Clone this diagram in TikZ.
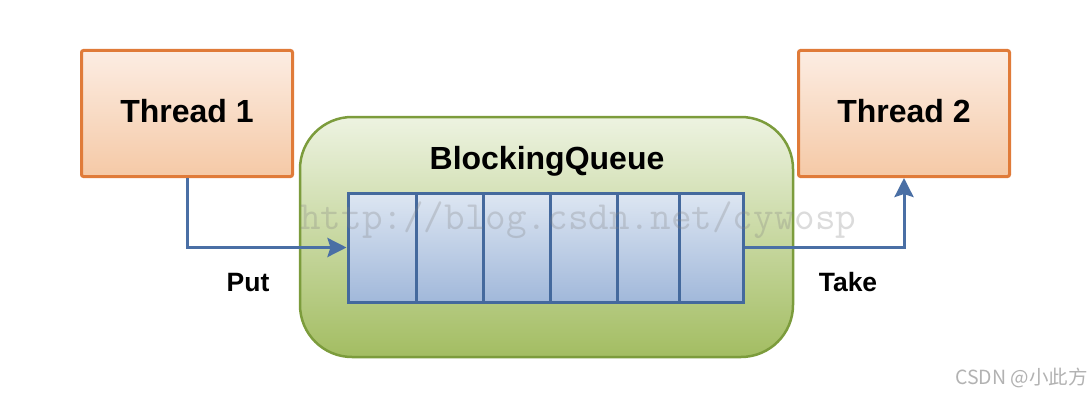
\documentclass[tikz,border=0pt]{standalone}
\usepackage{fontspec}
\setmainfont{Liberation Sans}
\newfontfamily\cjkf{Noto Sans CJK SC}
\usetikzlibrary{arrows.meta}
\definecolor{orangeB}{HTML}{E07B39}
\definecolor{orangeT}{HTML}{FCEDE3}
\definecolor{orangeBt}{HTML}{F5C9A6}
\definecolor{greenB}{HTML}{7C9C3C}
\definecolor{greenT}{HTML}{EDF3E1}
\definecolor{greenBt}{HTML}{A3BD62}
\definecolor{blueB}{HTML}{44699D}
\definecolor{blueT}{HTML}{DDE6F2}
\definecolor{blueBt}{HTML}{A1B8DA}
\definecolor{arrowC}{HTML}{4A6FA5}
\tikzset{
  thread/.style={draw=orangeB, line width=3pt, rounded corners=2pt,
    top color=orangeT, bottom color=orangeBt,
    minimum width=211pt, minimum height=126pt,
    text height=23pt, text depth=5pt,
    font=\fontsize{32}{36}\selectfont\bfseries},
  holder/.style={draw=greenB, line width=2.5pt, rounded corners=52pt,
    top color=greenT, bottom color=greenBt,
    minimum width=493pt, minimum height=240pt},
  cell/.style={draw=blueB, line width=3pt,
    top color=blueT, bottom color=blueBt,
    minimum height=109pt, inner sep=0pt},
  conn/.style={draw=arrowC, line width=3pt,
    -{Stealth[length=19pt,width=19pt,inset=3pt]}},
  lbl/.style={font=\fontsize{32}{36}\selectfont\bfseries},
  small/.style={font=\fontsize{26.5}{30}\selectfont\bfseries},
}
\begin{document}
\begin{tikzpicture}[x=1pt,y=-1pt]
\useasboundingbox[fill=white] (0,0) rectangle (1092,396);
\node[thread] (t1) at (187,113.5) {Thread 1};
\node[thread] (t2) at (904,113.5) {Thread 2};
\node[holder] (bqbox) at (546.5,237) {};
\node[lbl] (bq) at (547,161) {BlockingQueue};
\node[cell, minimum width=68pt] (c1) at (382,247.5) {};
\node[cell, minimum width=67pt] (c2) at (449.5,247.5) {};
\node[cell, minimum width=67pt] (c3) at (516.5,247.5) {};
\node[cell, minimum width=67pt] (c4) at (583.5,247.5) {};
\node[cell, minimum width=62pt] (c5) at (648,247.5) {};
\node[cell, minimum width=64pt] (c6) at (711,247.5) {};
\draw[conn] (t1.south) |- (c1.west);
\draw[conn] (c6.east) -| (t2.south);
\node[small] (put) at (248,283) {Put};
\node[small] (take) at (848,282) {Take};
\node[anchor=base west, text=gray, opacity=0.28, font=\ttfamily\fontsize{40}{42}\selectfont, inner sep=0pt] (wm) at (300,229) {http://blog.csdn.net/cywosp};
\node[anchor=east, text=gray!60, font=\cjkf\fontsize{19.5}{22}\selectfont, inner sep=0pt] (csdn) at (1088,378) {CSDN @小此方};
\end{tikzpicture}
\end{document}
